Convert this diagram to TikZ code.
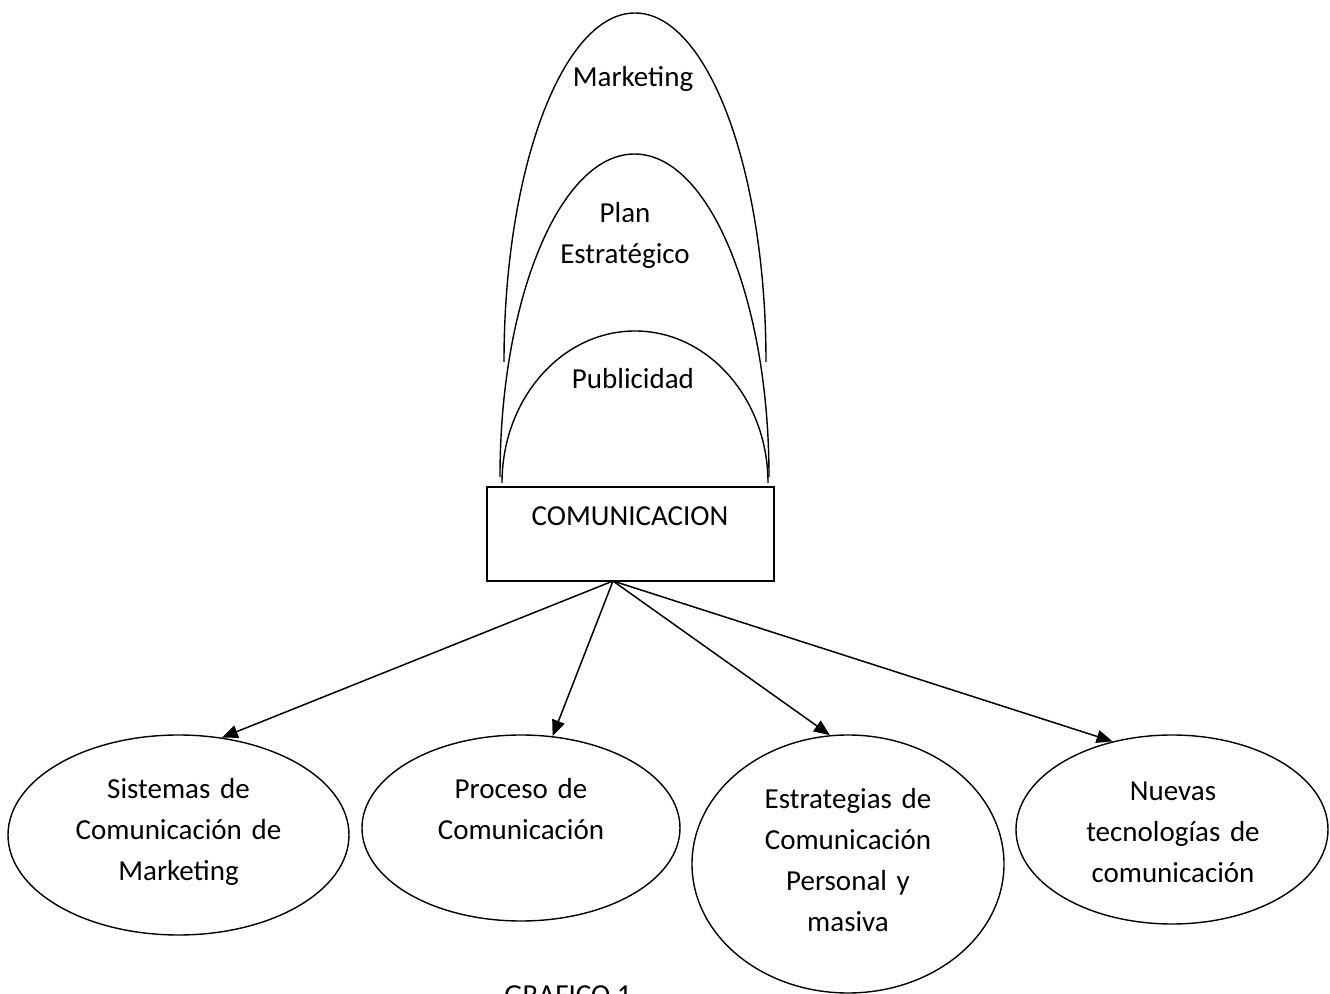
\documentclass[tikz,border=0pt]{standalone}
\usepackage{fontspec}
\setmainfont{Carlito}
\usetikzlibrary{shapes.geometric,arrows.meta}
\begin{document}
\begin{tikzpicture}[x=0.5pt,y=0.5pt,
  every node/.style={font=\fontsize{14.5pt}{20.5pt}\selectfont, inner sep=0pt},
  oval/.style={draw, ellipse, line width=0.7pt, inner sep=0pt},
  lbl/.style={align=center, text width=200pt, anchor=base},
  arcline/.style={line width=0.7pt},
  link/.style={line width=0.75pt, -{Triangle[length=8pt,width=6.5pt]}}]
\useasboundingbox (0,0) rectangle (1330,-994);
% arcs
\draw[arcline] (504,-362) arc[start angle=180,end angle=0,x radius=131,y radius=349];
\draw[arcline] (500,-477) arc[start angle=180,end angle=0,x radius=134.5,y radius=323];
\draw[arcline] (502,-483) arc[start angle=180,end angle=0,x radius=133,y radius=152];
\node[anchor=base] (mk) at (633,-87) {Marketing};
\node[lbl] (pe) at (625,-223) {Plan\\Estratégico};
\node[anchor=base] (pu) at (633,-389) {Publicidad};
% box
\node[draw, line width=0.75pt, minimum width=143.5pt, minimum height=47pt] (box) at (630.5,-534) {};
\node[anchor=base] (com) at (630,-526) {COMUNICACION};
\coordinate (src) at (613,-581);
% ellipses
\node[oval, minimum width=170.5pt, minimum height=100pt] (e1) at (178.5,-835) {};
\node[oval, minimum width=159pt, minimum height=93pt] (e2) at (521,-828) {};
\node[oval, minimum width=156pt, minimum height=129pt] (e3) at (848,-864) {};
\node[oval, minimum width=156pt, minimum height=94.5pt] (e4) at (1172,-829.5) {};
\node[lbl] (t1) at (178.5,-799) {Sistemas de\\Comunicación de\\Marketing};
\node[lbl] (t2) at (521,-799) {Proceso de\\Comunicación};
\node[lbl] (t3) at (848,-809) {Estrategias de\\Comunicación\\Personal y\\masiva};
\node[lbl] (t4) at (1173,-801) {Nuevas\\tecnologías de\\comunicación};
% arrows
\draw[link] (src) -- (e1.66);
\draw[link] (src) -- (e2.71.7);
\draw[link] (src) -- (e3.98.5);
\draw[link] (src) -- (e4.124.8);
\node[anchor=base] (graf) at (568,-1005) {GRAFICO 1};
\end{tikzpicture}
\end{document}
